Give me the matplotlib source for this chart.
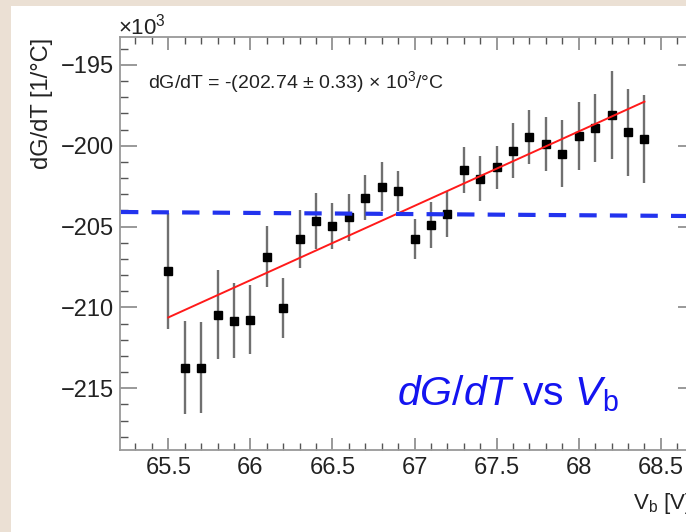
import matplotlib
matplotlib.use("Agg")
import matplotlib.pyplot as plt
from matplotlib.lines import Line2D
from matplotlib.patches import Rectangle
from matplotlib.ticker import MultipleLocator, FuncFormatter

# ---- data (values in units of 10^3 / degC) ----
vb = [65.5, 65.6, 65.7, 65.8, 65.9, 66.0, 66.1, 66.2, 66.3, 66.4,
      66.5, 66.6, 66.7, 66.8, 66.9, 67.0, 67.1, 67.2, 67.3, 67.4,
      67.5, 67.6, 67.7, 67.8, 67.9, 68.0, 68.1, 68.2, 68.3, 68.4]
dgdt = [-207.74, -213.72, -213.72, -210.46, -210.81, -210.77, -206.85, -210.05, -205.76, -204.65,
        -204.96, -204.42, -203.20, -202.52, -202.79, -205.76, -204.90, -204.23, -201.49, -202.05,
        -201.33, -200.30, -199.47, -199.89, -200.50, -199.39, -198.91, -198.09, -199.16, -199.58]
dgdt_err = [3.60, 2.90, 2.84, 2.75, 2.32, 2.13, 1.89, 1.86, 1.77, 1.73,
            1.44, 1.46, 1.39, 1.50, 1.24, 1.24, 1.41, 1.44, 1.41, 1.39,
            1.34, 1.70, 1.67, 1.70, 2.08, 2.09, 2.10, 2.71, 2.69, 2.71]
fit_x = [65.5, 68.4]
fit_y = [-210.62, -197.27]

fit_text = "dG/dT = -(202.74 \u00b1 0.33) \u00d7 10$^{3}$/\u00b0C"
title_text = r"$\mathit{dG/dT}$ vs $\mathit{V}_{\mathrm{b}}$"
xlabel = r"V$_{\mathrm{b}}$ [V]"
ylabel = "dG/dT [1/\u00b0C]"

plt.rcParams['font.family'] = ['Liberation Sans', 'DejaVu Sans']
plt.rcParams['mathtext.fontset'] = 'custom'
plt.rcParams['mathtext.rm'] = 'Liberation Sans'
plt.rcParams['mathtext.it'] = 'Liberation Sans:italic'
plt.rcParams['lines.scale_dashes'] = False

W, H = 686, 532
fig = plt.figure(figsize=(W / 100, H / 100), dpi=100)
fig.patch.set_facecolor('#ebe0d4')
fig.add_artist(Rectangle((11 / W, 0), 1, (H - 6) / H, transform=fig.transFigure,
                         facecolor='white', edgecolor='none', zorder=0))

ax = fig.add_axes([120 / W, (H - 450) / H, 575 / W, (450 - 37) / H])
ax.set_facecolor('white')
ax.set_xlim(65.206, 68.708)
ax.set_ylim(-218.82, -193.27)

ax.errorbar(vb, dgdt, yerr=dgdt_err, fmt='s', color='black', ms=6.2,
            ecolor='#707070', elinewidth=1.7, capsize=0, zorder=3)
ax.plot(fit_x, fit_y, color='#ff1a1a', lw=1.4, zorder=4)

ax.xaxis.set_major_locator(MultipleLocator(0.5))
ax.xaxis.set_minor_locator(MultipleLocator(0.1))
ax.yaxis.set_major_locator(MultipleLocator(5))
ax.yaxis.set_minor_locator(MultipleLocator(1))
ax.xaxis.set_major_formatter(FuncFormatter(lambda v, p: f"{v:g}"))
ax.yaxis.set_major_formatter(FuncFormatter(lambda v, p: f"\u2212{abs(v):g}" if v < 0 else f"{v:g}"))

ax.tick_params(axis='x', which='major', direction='in', length=9, width=1.4, color='#999999',
               top=True, bottom=True, labelsize=17, labelcolor='#222222', pad=5)
ax.tick_params(axis='x', which='minor', direction='in', length=5, width=1.0, color='#555555',
               top=True, bottom=True)
ax.tick_params(axis='y', which='major', direction='in', length=12.5, width=1.4, color='#999999',
               left=True, right=True, labelsize=17, labelcolor='#222222', pad=4)
ax.tick_params(axis='y', which='minor', direction='in', length=5.8, width=1.0, color='#555555',
               left=True, right=True)
for s in ax.spines.values():
    s.set_color('#999999')
    s.set_linewidth(1.3)

# exponent marker
fig.text(118 / W, 1 - 34 / H, r"$\times$10$^{3}$", fontsize=16, color='#222222',
         ha='left', va='baseline')

# fit text
fig.text(148 / W, 1 - 88 / H, fit_text, fontsize=14, color='#222222',
         ha='left', va='baseline')

# axis labels
fig.text(42 / W, 1 - 38 / H, ylabel, rotation=90, fontsize=17, color='#222222',
         ha='center', va='top')
fig.text(633 / W, 1 - 509 / H, xlabel, fontsize=16, color='#222222',
         ha='left', va='baseline')

# blue annotation text
fig.text(397 / W, 1 - 405 / H, title_text, fontsize=29.5, color='#1414f0',
         ha='left', va='baseline')

# blue dashed line (overlay annotation)
line = Line2D([121 / W, 1.0], [1 - 212 / H, 1 - 216 / H], transform=fig.transFigure,
              color='#2233ee', lw=3.0, linestyle=(0, (12.5, 9.5)), zorder=10)
fig.add_artist(line)

fig.savefig('out.png', dpi=100, facecolor=fig.get_facecolor())
